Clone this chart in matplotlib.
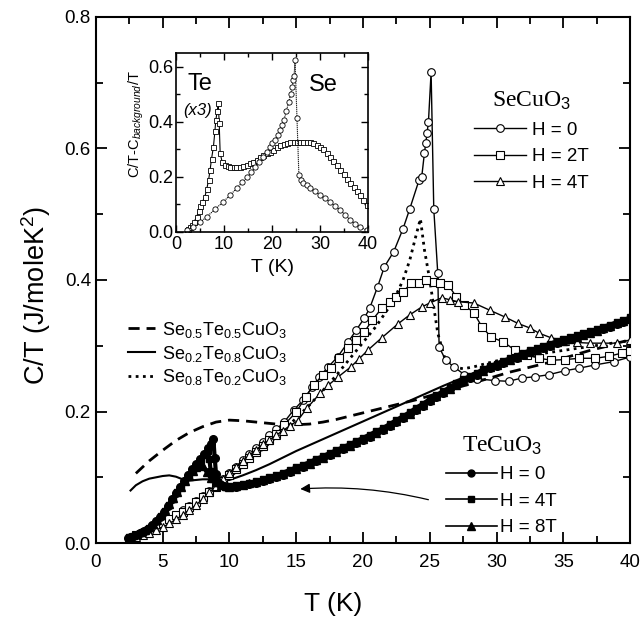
import matplotlib
matplotlib.use("Agg")
import matplotlib.pyplot as plt
from matplotlib.lines import Line2D
from matplotlib.ticker import MultipleLocator

plt.rcParams['font.family'] = ['Liberation Sans', 'DejaVu Sans']
plt.rcParams['mathtext.fontset'] = 'custom'
plt.rcParams['mathtext.rm'] = 'Liberation Sans'
plt.rcParams['mathtext.it'] = 'Liberation Sans:italic'

# ---------------- main panel data ----------------
# SeCuO3, H = 0 (open circles)
se0_T = [3, 3.5, 4, 4.5, 5, 5.5, 6, 6.5, 7, 7.5, 8, 8.5, 9, 9.5, 10, 10.5, 11, 11.5, 12, 12.5,
         13, 13.5, 14.1, 14.8, 15.5, 16.2, 16.7, 17.4, 18.1, 18.9, 19.5, 20.1, 20.5, 21.1, 21.6,
         22.3, 23.0, 23.5, 24.2, 24.4, 24.6, 24.7, 24.8, 24.9, 25.1, 25.3, 25.6, 25.7, 26.2, 26.8,
         27.6, 28.5, 29.9, 30.9, 31.9, 32.9, 33.9, 35.1, 36.2, 37.4, 38.8, 40]
se0_C = [0.012, 0.016, 0.021, 0.026, 0.031, 0.037, 0.043, 0.050, 0.057, 0.064, 0.072, 0.080,
         0.089, 0.098, 0.107, 0.116, 0.126, 0.135, 0.145, 0.154, 0.164, 0.173, 0.184, 0.202,
         0.217, 0.237, 0.252, 0.268, 0.283, 0.306, 0.324, 0.342, 0.357, 0.390, 0.420, 0.443,
         0.478, 0.508, 0.552, 0.557, 0.593, 0.608, 0.624, 0.640, 0.716, 0.508, 0.410, 0.298,
         0.278, 0.268, 0.256, 0.250, 0.247, 0.246, 0.251, 0.253, 0.256, 0.262, 0.266, 0.271,
         0.276, 0.283]
# SeCuO3, H = 2T (open squares)
se2_T = [3, 3.5, 4, 4.5, 5, 5.5, 6, 6.5, 7, 7.5, 8, 8.5, 9, 9.5, 10, 10.5, 11, 11.5, 12, 12.5,
         13, 13.5, 14.1, 15, 15.7, 16.3, 17, 17.6, 18.2, 18.9, 19.5, 20.1, 20.7, 21.4, 22, 22.5,
         23, 23.6, 24.2, 24.7, 25.3, 25.8, 26.4, 27, 27.6, 28.3, 28.9, 29.6, 30.5, 31.4, 32.3,
         33.2, 34.1, 35.1, 36.2, 37.4, 38.4, 39.4, 40]
se2_C = [0.012, 0.016, 0.020, 0.025, 0.030, 0.036, 0.042, 0.048, 0.055, 0.062, 0.070, 0.078,
         0.086, 0.094, 0.103, 0.112, 0.121, 0.130, 0.139, 0.148, 0.157, 0.166, 0.180, 0.199,
         0.222, 0.240, 0.256, 0.266, 0.281, 0.296, 0.309, 0.321, 0.339, 0.357, 0.366, 0.374,
         0.382, 0.395, 0.395, 0.400, 0.397, 0.395, 0.392, 0.374, 0.362, 0.350, 0.329, 0.313,
         0.306, 0.293, 0.286, 0.281, 0.278, 0.279, 0.281, 0.281, 0.284, 0.289, 0.292]
# SeCuO3, H = 4T (open triangles)
se4_T = [3, 3.5, 4, 4.5, 5, 5.5, 6, 6.5, 7, 7.5, 8, 8.5, 9, 9.5, 10, 10.5, 11, 11.5, 12, 12.5,
         13, 13.5, 14, 14.5, 15.1, 15.8, 16.8, 17.4, 18.1, 19.1, 19.7, 20.4, 21.4, 22.6, 23.5,
         24.4, 25, 25.9, 26.5, 27.1, 28.3, 29.5, 30.6, 31.6, 32.5, 33.2, 34.1, 35.1, 36, 37, 38,
         39, 40]
se4_C = [0.010, 0.013, 0.016, 0.020, 0.024, 0.030, 0.036, 0.043, 0.050, 0.058, 0.067, 0.077,
         0.087, 0.097, 0.107, 0.116, 0.125, 0.134, 0.142, 0.150, 0.157, 0.164, 0.171, 0.178,
         0.186, 0.205, 0.228, 0.240, 0.252, 0.268, 0.280, 0.294, 0.312, 0.333, 0.347, 0.359,
         0.365, 0.373, 0.370, 0.367, 0.365, 0.354, 0.344, 0.334, 0.327, 0.319, 0.312, 0.308,
         0.305, 0.304, 0.304, 0.304, 0.309]

# TeCuO3 (filled symbols), low-T part
te0_Tlo = [2.4, 2.7, 3.0, 3.3, 3.6, 3.9, 4.2, 4.5, 4.8, 5.1, 5.4, 5.7, 6.0, 6.3, 6.6, 6.9, 7.2,
           7.5, 7.8, 8.1, 8.4, 8.6, 8.8, 8.9, 9.0, 9.1, 9.3, 9.6]
te0_Clo = [0.008, 0.010, 0.012, 0.015, 0.018, 0.022, 0.027, 0.033, 0.040, 0.048, 0.057, 0.067,
           0.076, 0.086, 0.095, 0.104, 0.112, 0.120, 0.128, 0.136, 0.144, 0.150, 0.158, 0.130,
           0.105, 0.095, 0.090, 0.087]
te4_Tlo = [2.5, 2.8, 3.1, 3.4, 3.7, 4.0, 4.3, 4.6, 4.9, 5.2, 5.5, 5.8, 6.1, 6.4, 6.7, 7.0, 7.3,
           7.6, 7.9, 8.2, 8.4, 8.5, 8.6, 8.8, 9.1, 9.4, 9.7]
te4_Clo = [0.009, 0.011, 0.013, 0.016, 0.019, 0.023, 0.028, 0.034, 0.041, 0.049, 0.058, 0.067,
           0.077, 0.086, 0.095, 0.103, 0.111, 0.119, 0.127, 0.134, 0.140, 0.128, 0.110, 0.098,
           0.091, 0.088, 0.086]
te8_Tlo = [2.5, 2.8, 3.1, 3.4, 3.7, 4.0, 4.3, 4.6, 4.9, 5.2, 5.5, 5.8, 6.1, 6.4, 6.7, 7.0, 7.3,
           7.5, 7.7, 7.8, 8.0, 8.3, 8.6, 9.0, 9.4, 9.8]
te8_Clo = [0.010, 0.012, 0.014, 0.017, 0.020, 0.024, 0.029, 0.035, 0.042, 0.050, 0.059, 0.068,
           0.077, 0.086, 0.094, 0.102, 0.110, 0.115, 0.120, 0.124, 0.118, 0.108, 0.099, 0.093,
           0.089, 0.087]
# TeCuO3 high-T part (shared temperature grid)
te_Thi = [10.0, 10.5, 11, 11.5, 12, 12.5, 13, 13.5, 14, 14.5, 15, 15.5, 16, 16.5, 17, 17.5, 18,
          18.5, 19, 19.5, 20, 20.5, 21, 21.5, 22, 22.5, 23, 23.5, 24, 24.5, 25, 25.5, 26, 26.5,
          27, 27.5, 28, 28.5, 29, 29.5, 30, 30.5, 31, 31.5, 32, 32.5, 33, 33.5, 34, 34.5, 35,
          35.5, 36, 36.5, 37, 37.5, 38, 38.5, 39, 39.5, 40]
te0_Chi = [0.085, 0.086, 0.088, 0.090, 0.092, 0.095, 0.098, 0.101, 0.104, 0.108, 0.112, 0.116,
           0.120, 0.125, 0.129, 0.134, 0.138, 0.143, 0.147, 0.152, 0.157, 0.162, 0.167, 0.172,
           0.178, 0.184, 0.190, 0.196, 0.203, 0.209, 0.216, 0.222, 0.228, 0.234, 0.240, 0.246,
           0.251, 0.256, 0.261, 0.266, 0.270, 0.274, 0.278, 0.282, 0.286, 0.290, 0.293, 0.297,
           0.300, 0.304, 0.307, 0.310, 0.313, 0.316, 0.319, 0.322, 0.326, 0.329, 0.333, 0.336,
           0.340]
te4_Chi = [0.087, 0.088, 0.090, 0.092, 0.094, 0.097, 0.100, 0.103, 0.107, 0.111, 0.115, 0.119,
           0.123, 0.128, 0.132, 0.137, 0.141, 0.146, 0.150, 0.155, 0.160, 0.165, 0.170, 0.175,
           0.181, 0.187, 0.193, 0.199, 0.206, 0.212, 0.219, 0.225, 0.231, 0.237, 0.243, 0.249,
           0.254, 0.259, 0.264, 0.269, 0.273, 0.277, 0.281, 0.285, 0.289, 0.293, 0.296, 0.300,
           0.303, 0.307, 0.310, 0.313, 0.316, 0.319, 0.322, 0.325, 0.329, 0.332, 0.336, 0.339,
           0.343]
te8_Chi = [0.086, 0.087, 0.089, 0.091, 0.093, 0.096, 0.099, 0.102, 0.105, 0.109, 0.113, 0.117,
           0.121, 0.126, 0.130, 0.135, 0.139, 0.144, 0.148, 0.153, 0.158, 0.163, 0.168, 0.173,
           0.179, 0.185, 0.191, 0.197, 0.204, 0.210, 0.217, 0.223, 0.229, 0.235, 0.241, 0.247,
           0.252, 0.257, 0.262, 0.267, 0.271, 0.275, 0.279, 0.283, 0.287, 0.291, 0.294, 0.298,
           0.301, 0.305, 0.308, 0.311, 0.314, 0.317, 0.320, 0.323, 0.327, 0.330, 0.334, 0.337,
           0.341]

# Mixed compounds
mix55_T = [3, 4, 5, 6, 7, 8, 9, 10, 11, 12, 13, 14, 15, 16, 17, 18, 19, 20, 21, 22, 23, 24, 25,
           26, 27, 28, 29, 30, 31, 32, 33, 34, 35, 36, 37, 38, 39, 40]
mix55_C = [0.106, 0.125, 0.141, 0.156, 0.168, 0.177, 0.184, 0.187, 0.186, 0.184, 0.182, 0.180,
           0.180, 0.181, 0.184, 0.188, 0.193, 0.198, 0.203, 0.208, 0.213, 0.218, 0.224, 0.230,
           0.236, 0.242, 0.248, 0.254, 0.260, 0.265, 0.270, 0.275, 0.281, 0.287, 0.293, 0.298,
           0.304, 0.309]
mix28_T = [2.6, 3, 3.5, 4, 4.5, 5, 5.5, 6, 6.5, 7, 7.5, 8, 8.5, 9, 9.5, 10, 11, 12, 13, 14, 15,
           16, 17, 18, 19, 20, 22, 24, 26, 28, 30, 32, 34, 36, 38, 40]
mix28_C = [0.080, 0.088, 0.094, 0.098, 0.100, 0.102, 0.103, 0.101, 0.097, 0.095, 0.096, 0.097,
           0.097, 0.096, 0.095, 0.096, 0.103, 0.111, 0.120, 0.130, 0.140, 0.149, 0.158, 0.167,
           0.176, 0.185, 0.203, 0.221, 0.239, 0.256, 0.273, 0.288, 0.302, 0.316, 0.329, 0.342]
mix82_T = [3, 4, 5, 6, 7, 8, 9, 10, 11, 12, 13, 14, 15, 16, 17, 18, 19, 20, 21, 22, 22.5, 23,
           23.5, 24, 24.3, 24.6, 25, 25.3, 25.6, 26.1, 26.8, 27.5, 28.3, 29.4, 30, 31, 32, 33,
           34, 35, 36, 37, 38, 39, 40]
mix82_C = [0.012, 0.020, 0.030, 0.041, 0.054, 0.068, 0.084, 0.100, 0.117, 0.134, 0.152, 0.170,
           0.190, 0.210, 0.232, 0.255, 0.280, 0.305, 0.330, 0.360, 0.378, 0.400, 0.430, 0.470,
           0.493, 0.446, 0.400, 0.359, 0.319, 0.283, 0.268, 0.265, 0.268, 0.274, 0.277, 0.281,
           0.284, 0.287, 0.290, 0.293, 0.296, 0.299, 0.302, 0.305, 0.308]

# ---------------- inset data ----------------
ins_se_T = [2.2, 3.6, 5.0, 6.4, 8.1, 9.8, 11.3, 12.7, 13.8, 14.8, 15.7, 16.5, 17.3, 18.1, 18.9,
            19.6, 20.1, 20.6, 21.2, 21.7, 22.1, 22.5, 23.0, 23.5, 23.9, 24.2, 24.4, 24.6, 24.8,
            25.2, 25.6, 26.0, 26.5, 27.2, 27.9, 28.9, 30.0, 31.0, 32.1, 33.1, 34.2, 35.2, 36.3,
            37.3, 38.3, 39.7]
ins_se_C = [0.007, 0.018, 0.035, 0.055, 0.082, 0.109, 0.134, 0.160, 0.180, 0.200, 0.218, 0.236,
            0.254, 0.273, 0.292, 0.310, 0.322, 0.335, 0.352, 0.371, 0.388, 0.407, 0.440, 0.473,
            0.500, 0.527, 0.553, 0.565, 0.625, 0.415, 0.207, 0.190, 0.178, 0.169, 0.160, 0.148,
            0.135, 0.122, 0.109, 0.095, 0.080, 0.063, 0.044, 0.030, 0.018, 0.007]
ins_te_T = [2.2, 2.6, 3.0, 3.4, 3.8, 4.3, 4.7, 5.1, 5.5, 6.0, 6.4, 6.8, 7.1, 7.4, 7.8, 8.1, 8.3,
            8.6, 8.8, 9.0, 9.2, 9.6, 10.2, 10.8, 11.3, 12.0, 12.6, 13.3, 14.0, 14.7, 15.4, 16.1,
            16.8, 17.5, 18.2, 18.9, 19.6, 20.3, 21.0, 21.7, 22.4, 23.1, 23.8, 24.5, 25.2, 25.8,
            26.5, 27.2, 27.9, 28.6, 29.3, 30.0, 30.7, 31.4, 32.1, 32.8, 33.5, 34.2, 34.9, 35.6,
            36.3, 37.0, 37.7, 38.3, 39.0, 39.8]
ins_te_C = [0.007, 0.012, 0.018, 0.026, 0.038, 0.055, 0.075, 0.095, 0.110, 0.127, 0.155, 0.190,
            0.225, 0.265, 0.310, 0.365, 0.407, 0.440, 0.469, 0.396, 0.287, 0.255, 0.243, 0.238,
            0.236, 0.235, 0.235, 0.236, 0.240, 0.245, 0.250, 0.256, 0.263, 0.273, 0.280, 0.286,
            0.291, 0.299, 0.308, 0.316, 0.320, 0.324, 0.327, 0.328, 0.327, 0.327, 0.327, 0.326,
            0.327, 0.322, 0.317, 0.310, 0.300, 0.287, 0.273, 0.258, 0.242, 0.225, 0.210, 0.194,
            0.178, 0.163, 0.149, 0.135, 0.118, 0.098]

# ---------------- figure ----------------
fig = plt.figure(figsize=(6.43, 6.25), dpi=100)
ax = fig.add_axes([0.149, 0.131, 0.831, 0.842])

open_kw = dict(color='black', lw=1.0, mfc='white', mec='black', mew=0.8)
ax.plot(se0_T, se0_C, marker='o', ms=5.5, zorder=4, **open_kw)
ax.plot(se2_T, se2_C, marker='s', ms=5.5, zorder=4, **open_kw)
ax.plot(se4_T, se4_C, marker='^', ms=6, zorder=4, **open_kw)

fill_kw = dict(color='black', mfc='black', mec='black')
ax.plot(te0_Tlo + te_Thi, te0_Clo + te0_Chi, marker='o', ms=5.5, lw=3, zorder=5, **fill_kw)
ax.plot(te4_Tlo + te_Thi, te4_Clo + te4_Chi, marker='s', ms=5, lw=3, zorder=5, **fill_kw)
ax.plot(te8_Tlo + te_Thi, te8_Clo + te8_Chi, marker='^', ms=5.5, lw=3, zorder=5, **fill_kw)

ax.plot(mix55_T, mix55_C, color='black', lw=2.0, ls=(0, (4, 2.5)), zorder=3)
ax.plot(mix28_T, mix28_C, color='black', lw=1.5, ls='-', zorder=3)
ax.plot(mix82_T, mix82_C, color='black', lw=2.0, ls=(0, (1, 1.6)), zorder=3)

ax.set_xlim(0, 40)
ax.set_ylim(0, 0.8)
ax.xaxis.set_minor_locator(MultipleLocator(2.5))
ax.yaxis.set_minor_locator(MultipleLocator(0.1))
ax.set_xticks([0, 5, 10, 15, 20, 25, 30, 35, 40])
ax.set_xticklabels(['0', '5', '10', '15', '20', '25', '30', '35', '40'])
ax.set_yticks([0.0, 0.2, 0.4, 0.6, 0.8])
ax.set_yticklabels(['0.0', '0.2', '0.4', '0.6', '0.8'])
ax.tick_params(which='both', direction='in', top=True, right=True, labelsize=13.5, width=1.3)
ax.tick_params(which='major', length=8)
ax.tick_params(which='minor', length=5)
ax.tick_params(axis='x', pad=8)
for s in ax.spines.values():
    s.set_linewidth(1.5)
ax.set_xlabel('T (K)', fontsize=19)
ax.xaxis.set_label_coords(0.444, -0.093)
ax.set_ylabel('C/T (J/moleK$^2$)', fontsize=19.5)
ax.yaxis.set_label_coords(-0.08, 0.47)

# legends
serif17 = {'family': 'Liberation Serif', 'size': 17}
leg1 = ax.legend(handles=[
    Line2D([], [], marker='o', ms=5.5, **open_kw),
    Line2D([], [], marker='s', ms=5.5, **open_kw),
    Line2D([], [], marker='^', ms=6, **open_kw)],
    labels=['H = 0', 'H = 2T', 'H = 4T'], title='SeCuO$_3$', title_fontproperties=serif17,
    loc='upper left', bbox_to_anchor=(0.69, 0.88), frameon=False, fontsize=13.5,
    handlelength=2.8, handletextpad=0.3, labelspacing=0.5, borderpad=0)
ax.add_artist(leg1)
leg2 = ax.legend(handles=[
    Line2D([], [], color='black', lw=2.0, ls=(0, (4, 2.5))),
    Line2D([], [], color='black', lw=1.5, ls='-'),
    Line2D([], [], color='black', lw=2.0, ls=(0, (1, 1.6)))],
    labels=['Se$_{0.5}$Te$_{0.5}$CuO$_3$', 'Se$_{0.2}$Te$_{0.8}$CuO$_3$', 'Se$_{0.8}$Te$_{0.2}$CuO$_3$'],
    loc='upper left', bbox_to_anchor=(0.043, 0.442), frameon=False, fontsize=13,
    handlelength=1.5, handletextpad=0.4, labelspacing=0.22, borderpad=0)
ax.add_artist(leg2)
leg3 = ax.legend(handles=[
    Line2D([], [], marker='o', ms=5, lw=1.2, **fill_kw),
    Line2D([], [], marker='s', ms=4.5, lw=1.2, **fill_kw),
    Line2D([], [], marker='^', ms=5.5, lw=1.2, **fill_kw)],
    labels=['H = 0', 'H = 4T', 'H = 8T'], title='TeCuO$_3$', title_fontproperties=serif17,
    loc='upper left', bbox_to_anchor=(0.638, 0.225), frameon=False, fontsize=13.5,
    handlelength=2.7, handletextpad=0.2, labelspacing=0.5, borderpad=0)

ax.annotate('', xy=(15.1, 0.082), xytext=(25.1, 0.065),
            arrowprops=dict(arrowstyle='-|>', color='black', lw=0.9, mutation_scale=14,
                            connectionstyle='arc3,rad=0.08'))

# inset
ai = fig.add_axes([176/643, 1 - 232/625, 192/643, 179/625])
ai.plot(ins_te_T, ins_te_C, color='black', lw=0.8, marker='s', ms=3.6, mfc='white',
        mec='black', mew=0.6)
ai.plot(ins_se_T, ins_se_C, color='black', lw=0.8, ls=(0, (1, 0.8)), marker='o', ms=3.8,
        mfc='white', mec='black', mew=0.6)
ai.set_xlim(0, 40)
ai.set_ylim(0, 0.65)
ai.set_xticks([0, 10, 20, 30, 40])
ai.set_yticks([0.0, 0.2, 0.4, 0.6])
ai.set_yticklabels(['0.0', '0.2', '0.4', '0.6'])
ai.xaxis.set_minor_locator(MultipleLocator(5))
ai.yaxis.set_minor_locator(MultipleLocator(0.1))
ai.tick_params(which='both', direction='in', top=True, right=True, labelsize=13, width=1.0,
               pad=2)
ai.tick_params(axis='x', pad=3)
ai.tick_params(which='major', length=5)
ai.tick_params(which='minor', length=3)
for s in ai.spines.values():
    s.set_linewidth(1.2)
ai.set_xlabel('T (K)', fontsize=14)
ai.xaxis.set_label_coords(0.505, -0.15)
ai.set_ylabel('C/T-C$_{background}$/T', fontsize=10.5)
ai.yaxis.set_label_coords(-0.155, 0.6)
ai.text(0.06, 0.89, 'Te', transform=ai.transAxes, fontsize=17, va='top', ha='left')
ai.text(0.04, 0.72, '(x3)', transform=ai.transAxes, fontsize=12, style='italic',
        va='top', ha='left')
ai.text(0.69, 0.88, 'Se', transform=ai.transAxes, fontsize=17, va='top', ha='left')

fig.savefig('out.png', dpi=100)
